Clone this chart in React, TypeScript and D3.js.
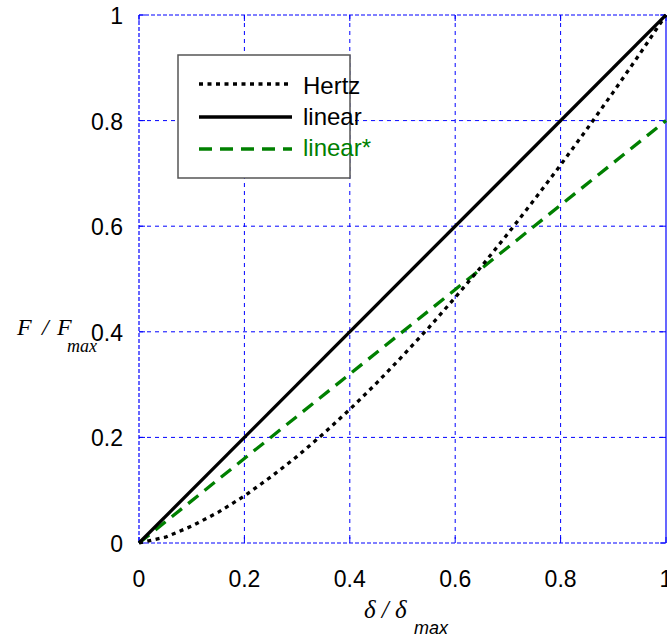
import React from "react";
import * as d3 from "d3";

const ticks = [0, 0.2, 0.4, 0.6, 0.8, 1];
const tickLabels = ["0", "0.2", "0.4", "0.6", "0.8", "1"];
const hertzX = [0, 0.05, 0.1, 0.15, 0.2, 0.25, 0.3, 0.35, 0.4, 0.45, 0.5, 0.55, 0.6, 0.65, 0.7, 0.75, 0.8, 0.85, 0.9, 0.95, 1];
const hertzY = [0, 0.011, 0.032, 0.058, 0.089, 0.125, 0.164, 0.207, 0.253, 0.302, 0.354, 0.408, 0.465, 0.524, 0.586, 0.65, 0.716, 0.784, 0.854, 0.926, 1];
const linearX = [0, 1];
const linearY = [0, 1];
const linearStarX = [0, 1];
const linearStarY = [0, 0.8];

export default function App() {
  const L = 139, R = 666, T = 15, B = 543;
  const x = d3.scaleLinear().domain([0, 1]).range([L, R]);
  const y = d3.scaleLinear().domain([0, 1]).range([B, T]);
  const line = d3.line<[number, number]>().x(d => x(d[0])).y(d => y(d[1]));
  const hertz = hertzX.map((v, i) => [v, hertzY[i]] as [number, number]);
  const lin = linearX.map((v, i) => [v, linearY[i]] as [number, number]);
  const linS = linearStarX.map((v, i) => [v, linearStarY[i]] as [number, number]);
  const blue = "#0000ff";
  const font = "Liberation Sans, Arial, sans-serif";
  const serif = "Liberation Serif, Times New Roman, serif";
  return (
    <svg width={667} height={643} style={{ position: "absolute", left: 0, top: 0 }}>
      <rect width={667} height={643} fill="#fff" />
      {ticks.slice(1, -1).map(t => (
        <g key={"g" + t}>
          <line x1={x(t)} x2={x(t)} y1={T} y2={B} stroke={blue} strokeWidth={1} strokeDasharray="4,4" />
          <line x1={L} x2={R} y1={y(t)} y2={y(t)} stroke={blue} strokeWidth={1} strokeDasharray="4,4" />
        </g>
      ))}
      <line x1={L} x2={R} y1={T} y2={T} stroke={blue} strokeWidth={1.2} strokeDasharray="4,2" />
      <line x1={L} x2={R} y1={B} y2={B} stroke={blue} strokeWidth={1.2} strokeDasharray="4,2" />
      <line x1={L} x2={L} y1={T} y2={B} stroke={blue} strokeWidth={1.2} strokeDasharray="4,2" />
      <line x1={R} x2={R} y1={T} y2={B} stroke={blue} strokeWidth={1.2} />
      {ticks.map(t => (
        <g key={"t" + t}>
          <line x1={x(t)} x2={x(t)} y1={B} y2={B - 6} stroke={blue} strokeWidth={1} />
          <line x1={x(t)} x2={x(t)} y1={T} y2={T + 6} stroke={blue} strokeWidth={1} />
          <line x1={L} x2={L + 6} y1={y(t)} y2={y(t)} stroke={blue} strokeWidth={1} />
          <line x1={R} x2={R - 6} y1={y(t)} y2={y(t)} stroke={blue} strokeWidth={1} />
        </g>
      ))}
      <path d={line(linS) || ""} fill="none" stroke="#008000" strokeWidth={3.3} strokeDasharray="13,8" />
      <path d={line(hertz) || ""} fill="none" stroke="#000" strokeWidth={3.3} strokeDasharray="4,4.5" />
      <path d={line(lin) || ""} fill="none" stroke="#000" strokeWidth={3.3} />
      {ticks.map((t, i) => (
        <text key={"xl" + t} x={x(t)} y={587} textAnchor="middle" fontFamily={font} fontSize={23} fill="#000">{tickLabels[i]}</text>
      ))}
      {ticks.map((t, i) => (
        <text key={"yl" + t} x={123} y={y(t) + 9} textAnchor="end" fontFamily={font} fontSize={23} fill="#000">{tickLabels[i]}</text>
      ))}
      <rect x={178} y={55} width={172} height={123} fill="#fff" stroke="#555" strokeWidth={1.5} />
      <line x1={199} x2={292} y1={84} y2={84} stroke="#000" strokeWidth={3.3} strokeDasharray="4,4.5" />
      <line x1={199} x2={292} y1={117} y2={117} stroke="#000" strokeWidth={3.3} />
      <line x1={199} x2={292} y1={149} y2={149} stroke="#008000" strokeWidth={3.3} strokeDasharray="13,8" />
      <text x={303} y={94} fontFamily={font} fontSize={24} fill="#000">Hertz</text>
      <text x={303} y={125} fontFamily={font} fontSize={24} fill="#000">linear</text>
      <text x={303} y={156} fontFamily={font} fontSize={24} fill="#008000">linear*</text>
      <text x={17} y={335} fontFamily={serif} fontStyle="italic" fontSize={24} fill="#000">F</text>
      <text x={42} y={335} fontFamily={serif} fontStyle="italic" fontSize={24} fill="#000">/</text>
      <text x={57} y={335} fontFamily={serif} fontStyle="italic" fontSize={24} fill="#000">F</text>
      <text x={67} y={352} fontFamily={serif} fontStyle="italic" fontSize={18} fill="#000">max</text>
      <text x={364} y={618} fontFamily={serif} fontStyle="italic" fontSize={25} fill="#000">δ / δ</text>
      <text x={414} y={634} fontFamily={font} fontStyle="italic" fontSize={18} fill="#000">max</text>
    </svg>
  );
}
